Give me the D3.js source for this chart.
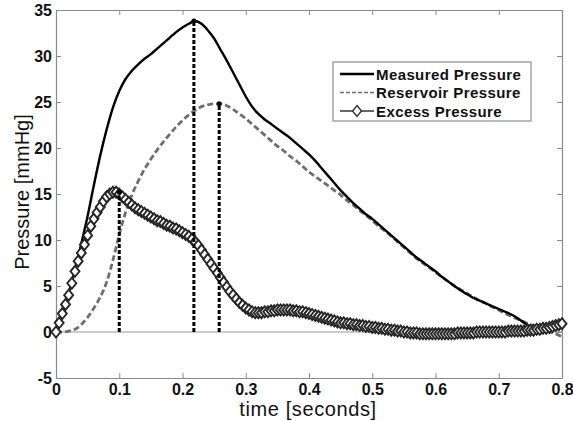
<!DOCTYPE html>
<html>
<head>
<meta charset="utf-8">
<script src="https://cdn.jsdelivr.net/npm/d3@7"></script>
<style>
  body { margin: 0; background: #fff; }
  svg { display: block; font-family: "Liberation Sans", Arial, sans-serif; }
</style>
</head>
<body>
<svg id="chart" width="573" height="421"></svg>
<script>
// sample times (seconds) for measured / reservoir, step 0.01
const lineTimes = d3.range(0, 81).map(i => i / 100);

// measured pressure [mmHg]
const measured = [
  0.0, 2.0, 4.2, 6.8, 9.6, 12.6, 16.0, 19.2, 22.0, 24.4,
  26.2, 27.5, 28.4, 29.1, 29.7, 30.2, 30.8, 31.4, 32.0, 32.6,
  33.1, 33.5, 33.8, 33.5, 32.8, 31.9, 30.7, 29.5, 28.2, 26.9,
  25.6, 24.5, 23.7, 23.1, 22.6, 22.1, 21.6, 21.1, 20.5, 19.9,
  19.3, 18.6, 17.8, 17.0, 16.2, 15.4, 14.7, 14.0, 13.4, 12.8,
  12.3, 11.7, 11.1, 10.5, 9.9, 9.3, 8.7, 8.1, 7.6, 7.1,
  6.6, 6.0, 5.5, 5.0, 4.5, 4.1, 3.7, 3.4, 3.1, 2.8,
  2.5, 2.2, 1.9, 1.5, 1.0, 0.6, 0.3, 0.2, 0.3, 0.4,
  0.6
];

// reservoir pressure [mmHg]
const reservoir = [
  0.0, 0.0, 0.1, 0.3, 0.8, 1.6, 2.6, 3.8, 5.4, 7.8,
  10.6, 13.0, 14.9, 16.4, 17.7, 18.8, 19.8, 20.7, 21.5, 22.3,
  23.0, 23.6, 24.1, 24.5, 24.7, 24.8, 24.8, 24.6, 24.2, 23.7,
  23.2, 22.6, 22.0, 21.4, 20.8, 20.2, 19.7, 19.1, 18.6, 18.0,
  17.4, 16.9, 16.4, 15.9, 15.4, 14.9, 14.3, 13.8, 13.2, 12.7,
  12.1, 11.5, 11.0, 10.4, 9.8, 9.2, 8.6, 8.0, 7.5, 7.0,
  6.5, 6.0, 5.5, 5.0, 4.6, 4.2, 3.8, 3.4, 3.1, 2.7,
  2.4, 2.0, 1.7, 1.4, 1.1, 0.8, 0.5, 0.2, 0.0, -0.2,
  -0.5
];

// excess pressure sampled at step 0.005 s
const excessTimes = d3.range(0, 161).map(i => i / 200);
const excess = [
  0.0, 1.0, 2.0, 3.0, 4.0, 5.3, 6.6, 7.7, 8.6, 9.5,
  10.5, 11.5, 12.3, 13.0, 13.6, 14.2, 14.7, 15.0, 15.2, 15.2,
  15.0, 14.7, 14.4, 14.1, 13.8, 13.5, 13.3, 13.1, 12.9, 12.7,
  12.5, 12.3, 12.1, 12.0, 11.8, 11.6, 11.5, 11.3, 11.2, 11.0,
  10.8, 10.6, 10.4, 10.1, 9.8, 9.4, 8.9, 8.4, 7.9, 7.4,
  6.9, 6.4, 5.9, 5.4, 4.9, 4.4, 4.0, 3.6, 3.2, 2.9,
  2.6, 2.4, 2.2, 2.1, 2.1, 2.1, 2.2, 2.2, 2.3, 2.3,
  2.4, 2.4, 2.4, 2.4, 2.4, 2.3, 2.3, 2.2, 2.2, 2.1,
  2.0, 1.9, 1.8, 1.7, 1.6, 1.5, 1.4, 1.3, 1.2, 1.1,
  1.0, 1.0, 0.9, 0.9, 0.8, 0.8, 0.7, 0.7, 0.6, 0.6,
  0.5, 0.5, 0.4, 0.4, 0.3, 0.3, 0.2, 0.2, 0.1, 0.1,
  0.0, 0.0, -0.1, -0.1, -0.1, -0.2, -0.2, -0.2, -0.2, -0.2,
  -0.2, -0.2, -0.2, -0.2, -0.2, -0.2, -0.2, -0.1, -0.1, -0.1,
  -0.1, -0.1, -0.1, 0.0, 0.0, 0.0, 0.0, 0.0, 0.0, 0.0,
  0.0, 0.0, 0.0, 0.1, 0.1, 0.1, 0.1, 0.1, 0.1, 0.2,
  0.2, 0.2, 0.3, 0.3, 0.4, 0.4, 0.5, 0.6, 0.7, 0.8,
  0.9
];

// peak markers: [time, pressure]
const peaks = [[0.1, 15.2], [0.218, 33.8], [0.258, 24.8]];

const xTicks = [0, 0.1, 0.2, 0.3, 0.4, 0.5, 0.6, 0.7, 0.8];
const yTicks = [-5, 0, 5, 10, 15, 20, 25, 30, 35];
const legendLabels = ["Measured Pressure", "Reservoir Pressure", "Excess Pressure"];

const svg = d3.select("#chart");
const plotLeft = 56, plotRight = 562, plotTop = 10, plotBottom = 378;
const axisColor = "#8a8a8a";

const x = d3.scaleLinear().domain([0, 0.8]).range([plotLeft, plotRight]);
const y = d3.scaleLinear().domain([-5, 35]).range([plotBottom, plotTop]);

// plain hyphen for negatives, like matlab
const plainFormat = d => String(d);

// zero line
svg.append("line")
    .attr("x1", x(0)).attr("x2", x(0.8))
    .attr("y1", y(0)).attr("y2", y(0))
    .attr("stroke", "#999").attr("stroke-width", 1.2);

// axes box with inward ticks
function styleAxis(g) {
    g.select(".domain").attr("stroke", axisColor).attr("stroke-width", 1.2);
    g.selectAll(".tick line").attr("stroke", axisColor).attr("stroke-width", 1);
}
function styleLabels(g) {
    g.selectAll("text").attr("font-size", 16).attr("font-weight", "bold").attr("fill", "#111");
}
svg.append("g").attr("transform", `translate(0,${plotBottom})`)
    .call(d3.axisBottom(x).tickValues(xTicks).tickSizeInner(-5).tickSizeOuter(0)
        .tickPadding(6).tickFormat(plainFormat))
    .call(styleAxis)
    .call(styleLabels);
svg.append("g").attr("transform", `translate(0,${plotTop})`)
    .call(d3.axisTop(x).tickValues(xTicks).tickSizeInner(-5).tickSizeOuter(0).tickFormat(""))
    .call(styleAxis);
svg.append("g").attr("transform", `translate(${plotLeft},0)`)
    .call(d3.axisLeft(y).tickValues(yTicks).tickSizeInner(-5).tickSizeOuter(0)
        .tickPadding(4).tickFormat(plainFormat))
    .call(styleAxis)
    .call(styleLabels);
svg.append("g").attr("transform", `translate(${plotRight},0)`)
    .call(d3.axisRight(y).tickValues(yTicks).tickSizeInner(-5).tickSizeOuter(0).tickFormat(""))
    .call(styleAxis);

// axis labels
svg.append("text")
    .attr("x", 308).attr("y", 416)
    .attr("text-anchor", "middle")
    .attr("font-size", 20).attr("fill", "#111")
    .attr("letter-spacing", 0.6)
    .text("time [seconds]");
svg.append("text")
    .attr("transform", "translate(29,192) rotate(-90)")
    .attr("text-anchor", "middle")
    .attr("font-size", 20).attr("fill", "#111")
    .text("Pressure [mmHg]");

const line = d3.line().x(d => x(d[0])).y(d => y(d[1])).curve(d3.curveMonotoneX);

// reservoir (gray dashed)
svg.append("path")
    .datum(lineTimes.map((t, i) => [t, reservoir[i]]))
    .attr("d", line)
    .attr("fill", "none").attr("stroke", "#6e6e6e")
    .attr("stroke-width", 2.8).attr("stroke-dasharray", "6,3");

// measured (solid black)
svg.append("path")
    .datum(lineTimes.map((t, i) => [t, measured[i]]))
    .attr("d", line)
    .attr("fill", "none").attr("stroke", "#000")
    .attr("stroke-width", 2.4);

// excess (line + diamonds)
const excessData = excessTimes.map((t, i) => [t, excess[i]]);
svg.append("path")
    .datum(excessData)
    .attr("d", line)
    .attr("fill", "none").attr("stroke", "#333")
    .attr("stroke-width", 1.5);
const diamond = "M0,-5.5L4.5,0L0,5.5L-4.5,0Z";
svg.append("g").selectAll("path")
    .data(excessData)
    .join("path")
    .attr("transform", d => `translate(${x(d[0])},${y(d[1])})`)
    .attr("d", diamond)
    .attr("fill", "#fff").attr("stroke", "#262626").attr("stroke-width", 1.9);

// vertical dashed lines at peaks
svg.append("g").selectAll("line")
    .data(peaks)
    .join("line")
    .attr("x1", d => x(d[0])).attr("x2", d => x(d[0]))
    .attr("y1", y(0)).attr("y2", d => y(d[1]))
    .attr("stroke", "#000").attr("stroke-width", 3)
    .attr("stroke-dasharray", "4,2");
svg.append("g").selectAll("circle")
    .data(peaks)
    .join("circle")
    .attr("cx", d => x(d[0])).attr("cy", d => y(d[1]))
    .attr("r", 2.5).attr("fill", "#000");

// legend
const legend = svg.append("g").attr("transform", "translate(333,62)");
legend.append("rect")
    .attr("width", 198).attr("height", 59)
    .attr("fill", "#fff").attr("stroke", "#777").attr("stroke-width", 1);
legendLabels.forEach((label, i) => {
    const ly = 12 + i * 18.5;
    const sample = legend.append("line")
        .attr("x1", 7).attr("x2", 41).attr("y1", ly).attr("y2", ly);
    if (i === 0) sample.attr("stroke", "#000").attr("stroke-width", 2.4);
    if (i === 1) sample.attr("stroke", "#6e6e6e").attr("stroke-width", 1.6).attr("stroke-dasharray", "4,2");
    if (i === 2) {
        sample.attr("stroke", "#333").attr("stroke-width", 1.5);
        legend.append("path")
            .attr("transform", `translate(24,${ly})`)
            .attr("d", diamond)
            .attr("fill", "#fff").attr("stroke", "#333").attr("stroke-width", 1.4);
    }
    legend.append("text")
        .attr("x", 43).attr("y", ly + 5.5)
        .attr("font-size", 15).attr("font-weight", "bold").attr("fill", "#111")
        .attr("letter-spacing", 0.4)
        .text(label);
});
</script>
</body>
</html>
